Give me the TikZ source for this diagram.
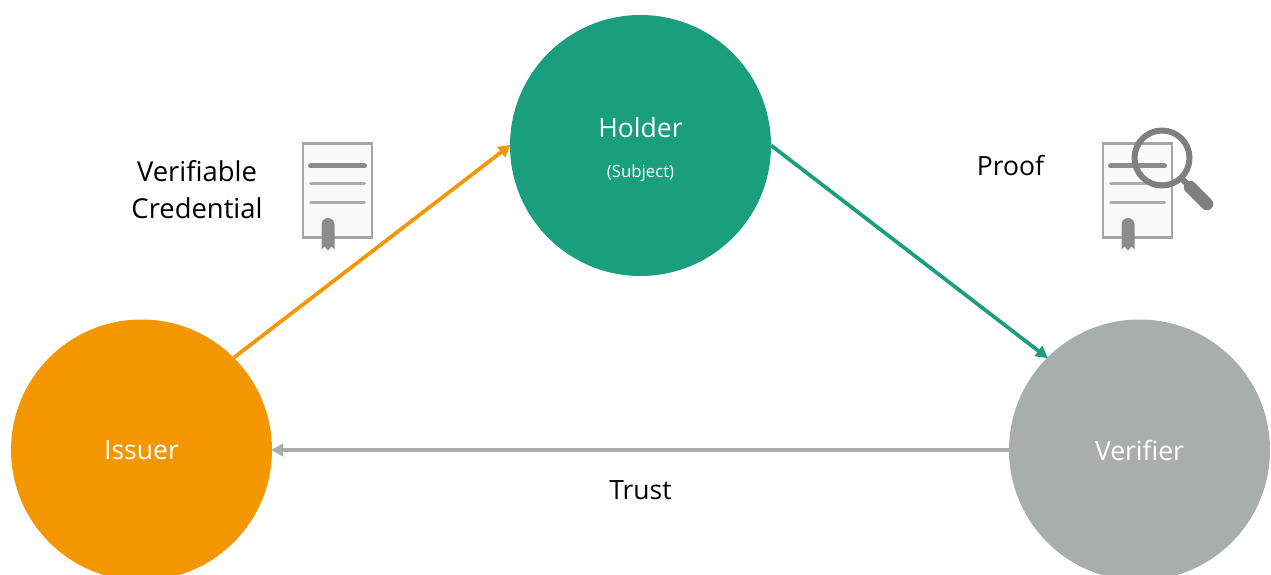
\documentclass[tikz,border=0pt]{standalone}
\usepackage{fontspec}
\setmainfont{Open Sans}
\usetikzlibrary{arrows.meta}
\definecolor{orangeC}{HTML}{F39600}
\definecolor{greenC}{HTML}{199F7E}
\definecolor{greyC}{HTML}{A8AEAC}
\definecolor{iconC}{HTML}{7F7F7F}
\tikzset{
  party/.style={circle,minimum size=261pt,inner sep=0pt,text=white,font=\fontsize{26.5}{30}\selectfont},
  flow/.style={line width=3.7pt,-{Triangle[length=12pt,width=12.5pt]},shorten >=-1pt},
  caption/.style={font=\fontsize{26.5}{37}\selectfont,text=black,align=center,inner sep=0pt},
  certificate/.pic={
    \draw[line width=2.4pt,draw=iconC!70,fill=black!2] (-34.5,47) rectangle (34.5,-47);
    \draw[line width=5pt,draw=iconC!90,line cap=round] (-27,24.5) -- (27,24.5);
    \draw[line width=3pt,draw=iconC!65,line cap=round] (-27,6.5) -- (27,6.5);
    \draw[line width=3pt,draw=iconC!65,line cap=round] (-27,-12.5) -- (27,-12.5);
    \fill[iconC!90] (-16,-34) arc (180:0:6.5) -- (-3,-59) -- (-6,-56) -- (-9.5,-60) -- (-13,-56) -- (-16,-59) -- cycle;
  }
}
\begin{document}
\begin{tikzpicture}[x=1pt,y=1pt]
\useasboundingbox (0,0) rectangle (1271,574);
\node[party,fill=orangeC] (issuer) at (141.5,124) {Issuer};
\node[party,fill=greenC] (holder) at (640.5,428.5) {};
\node[party,fill=greyC] (verifier) at (1139.5,124) {Verifier};
\node[text=white,font=\fontsize{26.5}{30}\selectfont,inner sep=0pt] (holdername) at (640.5,446) {Holder};
\node[text=white,font=\fontsize{16.8}{20}\selectfont,inner sep=0pt] (holdersub) at (640.5,400.5) {(Subject)};
\draw[flow,orangeC] (issuer.45) -- (holder.180);
\draw[flow,greenC] (holder.0) -- (verifier.135);
\draw[flow,greyC] (verifier.180) -- (issuer.0);
\node[caption,font=\fontsize{27.4}{37}\selectfont] (vc) at (197,384) {Verifiable\\Credential};
\node[caption] (proof) at (1010.5,409) {Proof};
\node[caption] (trust) at (640.5,84) {Trust};
\pic at (337.5,383.5) {certificate};
\pic at (1137.5,383.5) {certificate};
\draw[line width=6pt,draw=iconC] (1162,416) circle (27.5);
\draw[line width=6pt,draw=iconC] (1181,396) -- (1192,385);
\draw[line width=12.5pt,draw=iconC,line cap=round] (1190,387) -- (1207,370);
\end{tikzpicture}
\end{document}
